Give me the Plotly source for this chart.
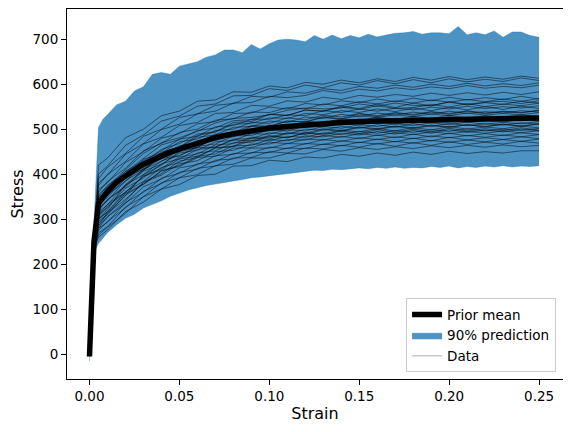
import plotly.graph_objects as go

# strain grid for the 90% prediction band
strain_band = [0, 0.0025, 0.005, 0.0075, 0.01, 0.015, 0.02, 0.025, 0.03, 0.035, 0.04, 0.045,
               0.05, 0.055, 0.06, 0.065, 0.07, 0.075, 0.08, 0.085, 0.09, 0.095, 0.1, 0.105,
               0.11, 0.115, 0.12, 0.125, 0.13, 0.135, 0.14, 0.145, 0.15, 0.155, 0.16, 0.165,
               0.17, 0.175, 0.18, 0.185, 0.19, 0.195, 0.2, 0.205, 0.21, 0.215, 0.22, 0.225,
               0.23, 0.235, 0.24, 0.245, 0.25]
band_upper = [5, 290, 503, 522, 532, 554, 562, 585, 594, 622, 626, 622, 640, 645, 650, 660, 665,
              676, 676, 670, 688, 678, 690, 698, 700, 698, 694, 708, 700, 709, 701, 708, 703, 711,
              705, 709, 713, 714, 717, 711, 714, 714, 712, 728, 710, 714, 710, 718, 704, 716, 716,
              708, 704]
band_lower = [-16, 225, 246, 259, 270, 287, 302, 311, 325, 333, 341, 351, 358, 365, 370, 375, 378,
              382, 385, 388, 392, 394, 397, 399, 401, 404, 407, 409, 408, 411, 410, 412, 414, 412,
              415, 413, 416, 413, 415, 414, 417, 415, 418, 414, 417, 415, 418, 416, 419, 416, 418,
              417, 419]

# prior mean curve
strain_mean = [0, 0.0025, 0.005, 0.0075, 0.01, 0.015, 0.02, 0.025, 0.03, 0.035, 0.04, 0.045, 0.05,
               0.06, 0.07, 0.08, 0.09, 0.1, 0.11, 0.12, 0.13, 0.14, 0.15, 0.16, 0.17, 0.18, 0.19,
               0.2, 0.21, 0.22, 0.23, 0.24, 0.25]
prior_mean = [-5, 250, 335, 350, 362, 382, 397, 410, 422, 432, 441, 449, 456, 470, 481, 490, 497,
              502, 506, 510, 513, 515, 517, 518, 519, 520, 521, 522, 523, 523, 524, 524, 525]

# measured stress-strain curves
strain_data = [0, 0.0025, 0.005, 0.01, 0.02, 0.03, 0.04, 0.05, 0.06, 0.07, 0.08, 0.09, 0.1, 0.11,
               0.12, 0.13, 0.14, 0.15, 0.16, 0.17, 0.18, 0.19, 0.2, 0.21, 0.22, 0.23, 0.24, 0.25]
stress_data = [
    [0, 245, 420, 436, 481, 500, 530, 540, 562, 565, 583, 582, 596, 592, 604, 600, 609, 603, 612, 606, 615, 609, 617, 610, 616, 611, 618, 613],
    [0, 240, 400, 418, 464, 487, 518, 529, 551, 556, 574, 575, 590, 586, 598, 592, 603, 598, 608, 601, 610, 603, 612, 605, 611, 606, 614, 608],
    [0, 250, 390, 415, 446, 484, 500, 526, 534, 553, 557, 573, 571, 583, 580, 590, 586, 595, 591, 598, 593, 600, 595, 602, 596, 601, 597, 603],
    [0, 235, 380, 398, 444, 468, 499, 511, 534, 540, 558, 559, 573, 570, 575, 586, 580, 589, 585, 592, 588, 594, 590, 597, 591, 595, 592, 598],
    [0, 242, 375, 399, 428, 467, 482, 508, 515, 535, 537, 553, 551, 563, 560, 571, 566, 575, 571, 577, 573, 580, 575, 581, 576, 582, 577, 583],
    [0, 238, 365, 381, 426, 450, 480, 490, 512, 517, 535, 536, 549, 545, 557, 554, 563, 559, 567, 561, 569, 563, 571, 565, 570, 566, 573, 567],
    [0, 246, 360, 384, 413, 452, 468, 493, 500, 520, 523, 538, 537, 548, 545, 556, 552, 561, 556, 563, 558, 565, 560, 566, 561, 567, 562, 568],
    [0, 232, 355, 372, 410, 446, 470, 481, 495, 514, 524, 526, 532, 542, 547, 545, 547, 556, 551, 558, 553, 552, 561, 555, 560, 562, 557, 563],
    [0, 248, 350, 375, 405, 435, 465, 477, 497, 503, 519, 521, 533, 531, 542, 540, 549, 544, 552, 546, 548, 555, 549, 557, 550, 556, 552, 558],
    [0, 236, 345, 362, 406, 430, 452, 478, 484, 505, 508, 522, 522, 532, 530, 541, 537, 545, 540, 547, 543, 549, 545, 551, 546, 550, 547, 552],
    [0, 244, 340, 357, 401, 425, 455, 468, 489, 494, 511, 513, 525, 524, 535, 532, 541, 537, 545, 539, 547, 541, 549, 543, 550, 544, 551, 546],
    [0, 239, 345, 368, 396, 433, 447, 472, 478, 497, 500, 515, 513, 525, 521, 531, 527, 535, 530, 537, 533, 539, 535, 541, 536, 540, 537, 542],
    [0, 247, 335, 352, 395, 419, 449, 460, 482, 487, 504, 506, 518, 515, 527, 524, 533, 528, 536, 531, 538, 533, 540, 535, 539, 536, 541, 538],
    [0, 233, 330, 354, 384, 421, 438, 463, 470, 489, 493, 508, 507, 518, 516, 526, 522, 530, 526, 532, 528, 534, 530, 536, 531, 535, 532, 537],
    [0, 241, 325, 341, 386, 409, 440, 450, 472, 477, 495, 495, 509, 505, 518, 514, 523, 518, 527, 521, 529, 523, 531, 525, 530, 526, 532, 528],
    [0, 237, 330, 349, 391, 412, 441, 452, 473, 476, 494, 494, 508, 504, 514, 512, 520, 516, 524, 518, 526, 520, 528, 522, 527, 523, 529, 525],
    [0, 245, 320, 344, 374, 411, 428, 453, 460, 480, 483, 497, 497, 508, 506, 516, 512, 520, 516, 522, 518, 524, 519, 526, 521, 525, 522, 527],
    [0, 230, 315, 332, 376, 399, 430, 441, 462, 467, 485, 486, 499, 496, 507, 505, 513, 509, 517, 511, 519, 514, 521, 515, 520, 516, 522, 518],
    [0, 243, 320, 343, 372, 407, 422, 447, 453, 472, 475, 490, 489, 499, 496, 506, 502, 510, 506, 512, 508, 514, 510, 516, 511, 515, 512, 517],
    [0, 236, 310, 325, 369, 392, 423, 434, 455, 460, 478, 479, 492, 489, 500, 498, 506, 502, 510, 504, 512, 506, 513, 508, 512, 509, 514, 511],
    [0, 249, 305, 329, 359, 396, 413, 438, 445, 465, 468, 482, 482, 492, 491, 501, 497, 505, 501, 507, 503, 509, 505, 510, 506, 511, 507, 512],
    [0, 234, 300, 317, 361, 384, 415, 426, 447, 452, 470, 471, 484, 481, 492, 490, 498, 494, 502, 496, 504, 498, 506, 500, 505, 501, 507, 503],
    [0, 240, 310, 333, 360, 395, 410, 434, 440, 458, 461, 475, 474, 484, 482, 492, 488, 495, 491, 497, 493, 499, 495, 501, 496, 500, 497, 502],
    [0, 231, 295, 310, 354, 377, 408, 419, 440, 445, 463, 464, 477, 474, 485, 483, 491, 487, 495, 489, 497, 491, 499, 493, 498, 494, 500, 496],
    [0, 244, 290, 314, 344, 381, 398, 423, 430, 450, 453, 467, 467, 477, 476, 486, 482, 490, 486, 492, 488, 494, 490, 495, 491, 496, 492, 497],
    [0, 238, 300, 316, 357, 378, 407, 417, 437, 440, 458, 459, 471, 468, 478, 476, 484, 479, 487, 481, 489, 483, 491, 485, 490, 486, 492, 488],
    [0, 229, 285, 305, 335, 372, 389, 414, 421, 441, 444, 458, 458, 468, 467, 477, 473, 481, 477, 483, 479, 485, 481, 486, 482, 487, 483, 488],
    [0, 242, 280, 293, 337, 360, 391, 402, 423, 428, 446, 447, 460, 457, 468, 466, 474, 470, 478, 472, 480, 474, 482, 476, 481, 477, 483, 479],
    [0, 233, 275, 295, 325, 362, 379, 404, 411, 431, 434, 448, 448, 458, 457, 467, 463, 471, 467, 473, 469, 475, 471, 476, 472, 477, 473, 478],
    [0, 239, 270, 283, 327, 350, 381, 392, 413, 418, 436, 437, 450, 447, 458, 456, 464, 460, 468, 462, 470, 464, 472, 466, 471, 467, 473, 469],
    [0, 228, 265, 282, 313, 350, 367, 392, 399, 419, 422, 436, 436, 446, 445, 455, 451, 459, 455, 461, 457, 463, 459, 464, 460, 465, 461, 464],
    [0, 235, 260, 276, 317, 338, 367, 377, 397, 400, 418, 419, 431, 428, 438, 436, 444, 440, 447, 442, 449, 444, 451, 446, 450, 447, 452, 452],
    [0, 246, 285, 314, 352, 399, 420, 450, 459, 483, 488, 506, 505, 518, 516, 528, 523, 534, 528, 536, 531, 538, 533, 540, 534, 539, 536, 542],
    [0, 237, 300, 322, 377, 408, 444, 460, 486, 494, 515, 517, 533, 530, 543, 540, 551, 546, 556, 548, 558, 552, 560, 554, 559, 555, 562, 558],
    [0, 243, 350, 361, 396, 411, 435, 441, 459, 460, 476, 474, 486, 481, 492, 487, 496, 490, 499, 493, 500, 494, 502, 496, 501, 497, 503, 498],
    [0, 232, 280, 306, 340, 383, 401, 429, 437, 459, 462, 480, 478, 491, 488, 499, 495, 504, 499, 506, 501, 508, 504, 510, 505, 511, 506, 512],
]

x_ticks = [0, 0.05, 0.1, 0.15, 0.2, 0.25]
x_ticktext = ['0.00', '0.05', '0.10', '0.15', '0.20', '0.25']
y_ticks = [0, 100, 200, 300, 400, 500, 600, 700]

band_color = 'rgba(31,119,180,0.8)'

fig = go.Figure()

# 90% prediction band
fig.add_trace(go.Scatter(
    x=strain_band, y=band_lower, mode='lines',
    line=dict(color=band_color, width=0.5),
    showlegend=False, hoverinfo='skip'
))
fig.add_trace(go.Scatter(
    x=strain_band, y=band_upper, mode='lines',
    line=dict(color=band_color, width=0.5),
    fill='tonexty', fillcolor=band_color,
    name='90% prediction', legendrank=2
))

# data curves
for curve in stress_data:
    fig.add_trace(go.Scatter(
        x=strain_data, y=curve, mode='lines',
        line=dict(color='rgba(0,0,0,0.62)', width=0.8),
        showlegend=False, hoverinfo='skip'
    ))

# legend entry for the data (light grey like the reference)
fig.add_trace(go.Scatter(
    x=[None], y=[None], mode='lines',
    line=dict(color='rgba(0,0,0,0.22)', width=1.5),
    name='Data', legendrank=3
))

# prior mean on top
fig.add_trace(go.Scatter(
    x=strain_mean, y=prior_mean, mode='lines',
    line=dict(color='black', width=5.5),
    name='Prior mean', legendrank=1
))

# the page body adds an 8px margin, so the figure is sized to fit inside the window
fig.update_layout(
    width=563, height=424,
    margin=dict(l=59, r=8, t=1, b=53, pad=0),
    plot_bgcolor='white', paper_bgcolor='white',
    font=dict(family='DejaVu Sans', size=13.5, color='black'),
    legend=dict(x=0.986, y=0.018, xanchor='right', yanchor='bottom',
                traceorder='normal',
                bgcolor='rgba(255,255,255,0.8)', bordercolor='#cccccc', borderwidth=1,
                font=dict(size=13.5)),
)

fig.update_xaxes(
    range=[-0.0125, 0.2633], tickvals=x_ticks, ticktext=x_ticktext,
    showline=True, mirror=True, linecolor='black', linewidth=1,
    ticks='outside', ticklen=5, tickwidth=1, tickcolor='black',
    showgrid=False, zeroline=False, automargin=False,
    title=dict(text='Strain', standoff=4)
)
fig.update_yaxes(
    range=[-55, 767], tickvals=y_ticks,
    showline=True, mirror=True, linecolor='black', linewidth=1,
    ticks='outside', ticklen=5, tickwidth=1, tickcolor='black',
    showgrid=False, zeroline=False, automargin=False,
    title=dict(text='Stress', standoff=8)
)

fig.write_html("out.html")
